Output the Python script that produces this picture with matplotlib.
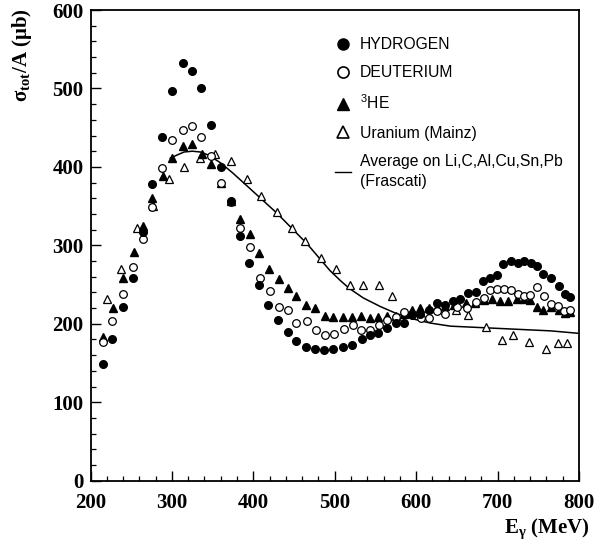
import matplotlib
matplotlib.use("Agg")
import matplotlib.pyplot as plt
from matplotlib.ticker import MultipleLocator
from matplotlib.lines import Line2D

# ---------------- data ----------------
h_E = [215, 227, 240, 252, 265, 276, 288, 300, 313, 325, 336, 348, 360, 372, 384, 395, 407,
       418, 430, 442, 453, 465, 476, 487, 498, 510, 521, 533, 543, 553, 564, 575, 585, 595,
       605, 616, 625, 636, 645, 654, 664, 674, 682, 691, 699, 707, 717, 725, 733, 741, 748,
       756, 765, 775, 783, 789]
h_S = [149, 180, 221, 259, 317, 378, 438, 497, 533, 522, 500, 453, 400, 356, 312, 277, 250,
       224, 205, 190, 178, 171, 168, 167, 168, 170, 173, 181, 186, 188, 195, 201, 201, 211,
       213, 218, 226, 224, 229, 232, 239, 240, 254, 258, 262, 276, 280, 278, 280, 277, 274,
       263, 259, 248, 238, 234]

d_E = [215, 227, 240, 252, 265, 276, 288, 300, 313, 325, 336, 348, 360, 372, 384, 396, 408,
       420, 432, 442, 453, 466, 477, 488, 499, 511, 522, 532, 543, 554, 564, 575, 585, 595,
       606, 616, 625, 636, 650, 663, 673, 683, 691, 699, 708, 717, 725, 733, 740, 748, 757,
       766, 774, 782, 789]
d_S = [177, 203, 238, 273, 308, 349, 398, 434, 447, 452, 438, 414, 380, 355, 322, 298, 259,
       242, 222, 217, 201, 204, 192, 186, 187, 193, 198, 192, 192, 199, 205, 209, 215, 212,
       207, 207, 216, 213, 222, 220, 228, 233, 243, 244, 244, 243, 238, 235, 237, 247, 235,
       225, 223, 216, 218]

he_E = [215, 228, 240, 253, 265, 276, 289, 300, 313, 325, 337, 348, 360, 372, 384, 396, 407,
        419, 431, 442, 453, 465, 476, 488, 498, 510, 521, 532, 543, 553, 564, 575, 585, 595,
        605, 616, 625, 636, 646, 661, 672, 683, 693, 703, 713, 724, 732, 740, 749, 756, 765,
        775, 783, 789]
he_S = [183, 220, 258, 291, 325, 360, 388, 411, 427, 429, 417, 404, 380, 357, 334, 314, 290,
        270, 257, 245, 236, 224, 220, 210, 209, 209, 209, 210, 208, 209, 210, 210, 212, 218,
        220, 220, 221, 223, 224, 227, 227, 230, 231, 229, 229, 231, 231, 230, 221, 218, 221,
        217, 214, 215]

u_E = [220, 238, 257, 277, 296, 315, 334, 353, 373, 392, 410, 429, 447, 464, 483, 501, 519,
       535, 554, 570, 649, 664, 686, 706, 719, 739, 760, 774, 785]
u_S = [231, 270, 322, 350, 385, 400, 411, 417, 408, 384, 363, 342, 322, 306, 284, 270, 250,
       249, 250, 236, 217, 211, 196, 179, 186, 177, 168, 176, 176]

f_E = [298, 306, 315, 325, 335, 345, 360, 375, 392, 410, 429, 447, 466, 480, 494, 507, 518,
       535, 556, 576, 597, 617, 642, 683, 724, 765, 798]
f_S = [411, 415, 419, 420, 419, 415, 405, 392, 376, 359, 341, 322, 302, 285, 268, 255, 245,
       233, 222, 213, 206, 201, 197, 195, 193, 191, 188]

labels = ["HYDROGEN", "DEUTERIUM", "$^{3}$HE", "Uranium (Mainz)",
          "Average on Li,C,Al,Cu,Sn,Pb\n(Frascati)"]
xticks = [200, 300, 400, 500, 600, 700, 800]
yticks = [0, 100, 200, 300, 400, 500, 600]

# ---------------- figure ----------------
plt.rcParams['mathtext.fontset'] = 'custom'
plt.rcParams['mathtext.rm'] = 'Liberation Sans'
plt.rcParams['mathtext.bf'] = 'Liberation Serif:bold'

W, H = 608, 546
fig = plt.figure(figsize=(W / 100, H / 100), dpi=100)
x0, x1, yb, yt = 90.5, 579, 480.7, 10
ax = fig.add_axes([x0 / W, 1 - yb / H, (x1 - x0) / W, (yb - yt) / H])

ms = 5.5
ax.plot(f_E, f_S, color='black', lw=1.1, zorder=1)
ax.plot(u_E, u_S, ls='none', marker='^', ms=ms + 0.6, mfc='white', mec='black', mew=0.9, zorder=2)
ax.plot(he_E, he_S, ls='none', marker='^', ms=ms + 0.6, mfc='black', mec='black', zorder=3)
ax.plot(d_E, d_S, ls='none', marker='o', ms=ms, mfc='white', mec='black', mew=0.9, zorder=4)
ax.plot(h_E, h_S, ls='none', marker='o', ms=ms, mfc='black', mec='black', zorder=5)

ax.set_xlim(200, 800)
ax.set_ylim(0, 600)
ax.set_xticks(xticks)
ax.set_yticks(yticks)
ax.xaxis.set_minor_locator(MultipleLocator(20))
ax.yaxis.set_minor_locator(MultipleLocator(20))
ax.tick_params(which='both', direction='in', top=False, right=False)
ax.tick_params(which='major', length=7, width=1.0)
ax.tick_params(which='minor', length=3.5, width=0.9)
ax.tick_params(axis='x', pad=9)
ax.tick_params(axis='y', pad=5)
for lab in ax.get_xticklabels() + ax.get_yticklabels():
    lab.set_fontfamily('Liberation Serif')
    lab.set_fontweight('bold')
    lab.set_fontsize(15)
for sp in ax.spines.values():
    sp.set_linewidth(1.3)

# legend
handles = [
    Line2D([], [], ls='none', marker='o', ms=8, mfc='black', mec='black'),
    Line2D([], [], ls='none', marker='o', ms=8, mfc='white', mec='black', mew=1.2),
    Line2D([], [], ls='none', marker='^', ms=8, mfc='black', mec='black'),
    Line2D([], [], ls='none', marker='^', ms=8, mfc='white', mec='black', mew=1.2),
    Line2D([], [], color='black', lw=1.0),
]
leg = ax.legend(handles, labels, loc='upper left',
                bbox_to_anchor=(335 / W, 1 - 37 / H), bbox_transform=fig.transFigure,
                frameon=False, borderpad=0, borderaxespad=0, handlelength=1.0,
                handletextpad=0.6, labelspacing=0.85,
                prop={'family': 'Liberation Sans', 'size': 11.3})
leg.get_texts()[-1].set_linespacing(1.45)

fig.text(22 / W, 1 - 8 / H, r'σ$_{\mathbf{tot}}$/A (μb)', rotation=90, ha='center', va='top',
         fontfamily='Liberation Serif', fontweight='bold', fontsize=15)
fig.text(590 / W, 1 - 529 / H, r'E$_{\mathbf{\gamma}}$ (MeV)', ha='right', va='center',
         fontfamily='Liberation Serif', fontweight='bold', fontsize=15)

fig.savefig('out.png', dpi=100)
